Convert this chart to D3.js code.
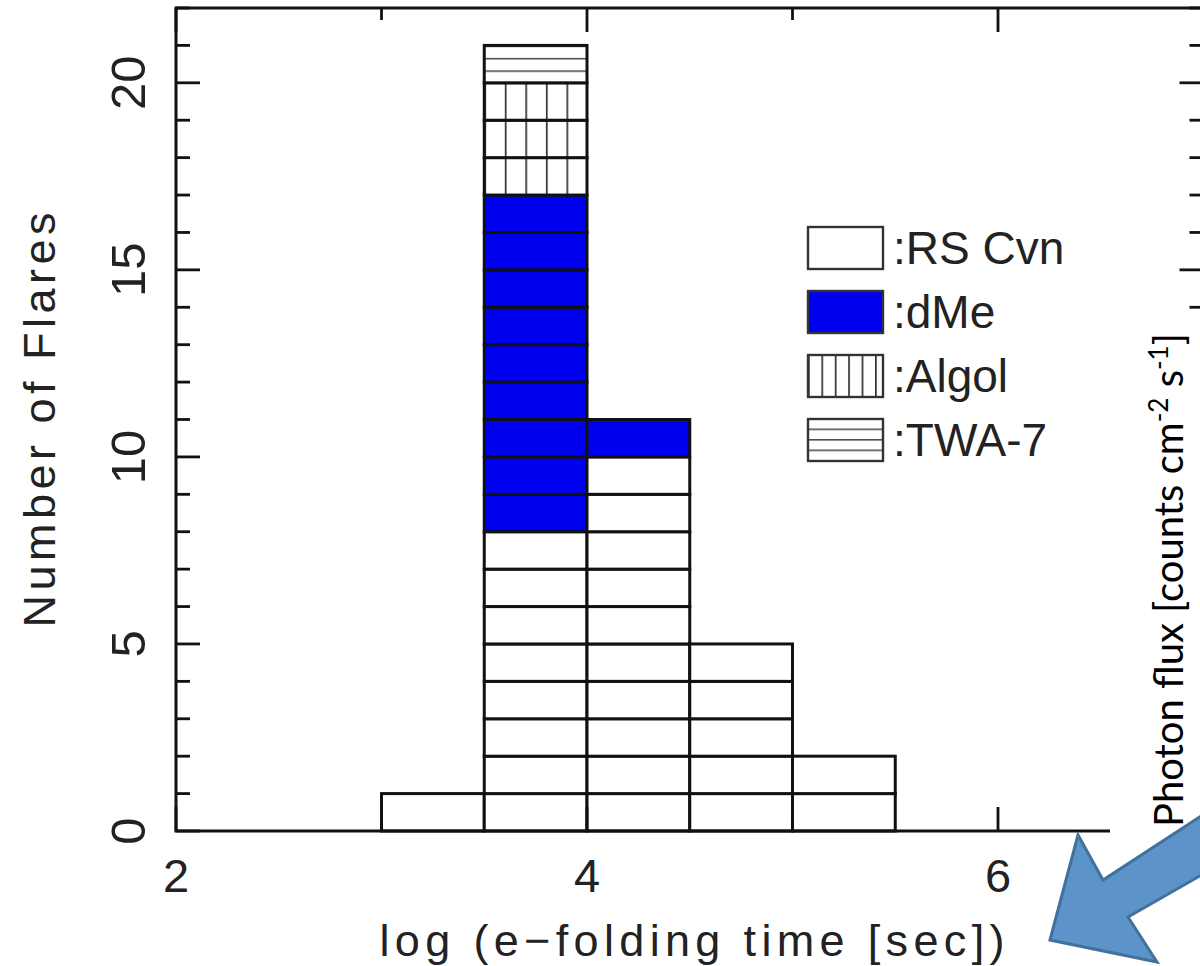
<!DOCTYPE html>
<html>
<head>
<meta charset="utf-8">
<script src="https://cdn.jsdelivr.net/npm/d3@7"></script>
<style>
html,body{margin:0;padding:0;background:#fff;}
svg{display:block;}
</style>
</head>
<body>
<svg id="chart" width="1200" height="966"></svg>
<script>
// ---- data ----
const binStarts = [3.0, 3.5, 4.0, 4.5, 5.0];
const binWidth = 0.5;
const rsCvn = [1, 8, 10, 5, 2];
const dMe   = [0, 9, 1, 0, 0];
const algol = [0, 3, 0, 0, 0];
const twa7  = [0, 1, 0, 0, 0];
const seriesNames = [":RS Cvn", ":dMe", ":Algol", ":TWA-7"];
const xTickLabels = [2, 4, 6];
const yTickLabels = [0, 5, 10, 15, 20];
const xLabel = "log (e\u2212folding time [sec])";
const yLabel = "Number of Flares";

// ---- layout ----
const svg = d3.select("#chart");
const x = d3.scaleLinear().domain([2, 7]).range([176, 1203.5]);
const y = d3.scaleLinear().domain([0, 22]).range([831, 8]);
const font = "'Liberation Sans', Arial, Helvetica, sans-serif";
const ink = "#111";

const defs = svg.append("defs");
function vPattern(id, step, x0) {
  const p = defs.append("pattern").attr("id", id).attr("patternUnits", "userSpaceOnUse")
    .attr("width", step).attr("height", 10).attr("x", x0).attr("y", 0);
  p.append("rect").attr("width", step).attr("height", 10).attr("fill", "#fff");
  p.append("line").attr("x1", 0.8).attr("x2", 0.8).attr("y1", 0).attr("y2", 10)
    .attr("stroke", "#333").attr("stroke-width", 1.8);
}
function hPattern(id, step, y0) {
  const p = defs.append("pattern").attr("id", id).attr("patternUnits", "userSpaceOnUse")
    .attr("width", 10).attr("height", step).attr("x", 0).attr("y", y0);
  p.append("rect").attr("width", 10).attr("height", step).attr("fill", "#fff");
  p.append("line").attr("y1", 0.8).attr("y2", 0.8).attr("x1", 0).attr("x2", 10)
    .attr("stroke", "#444").attr("stroke-width", 1.5);
}
vPattern("algolBar", (x(3.5 + binWidth) - x(3.5)) / 5, x(3.5));
hPattern("twaBar", (y(20) - y(21)) / 3, y(21));
vPattern("algolLeg", 13.4, 808);
hPattern("twaLeg", 10.5, 418);

const fills = ["#fff", "#0000f0", "url(#algolBar)", "url(#twaBar)"];
const legFills = ["#fff", "#0000f0", "url(#algolLeg)", "url(#twaLeg)"];
const seriesData = [rsCvn, dMe, algol, twa7];

// unit cells
const cells = [];
binStarts.forEach((b, i) => {
  let base = 0;
  seriesData.forEach((s, k) => {
    for (let j = 0; j < s[i]; j++) {
      cells.push({x0: b, x1: b + binWidth, y0: base + j, y1: base + j + 1, k});
    }
    base += s[i];
  });
});

const gBars = svg.append("g");
gBars.selectAll("rect").data(cells).enter().append("rect")
  .attr("x", d => x(d.x0)).attr("width", d => x(d.x1) - x(d.x0))
  .attr("y", d => y(d.y1)).attr("height", d => y(d.y0) - y(d.y1))
  .attr("fill", d => fills[d.k])
  .attr("stroke", ink).attr("stroke-width", 3);

// frame
svg.append("rect").attr("x", x(2)).attr("y", y(22))
  .attr("width", x(7) - x(2)).attr("height", y(0) - y(22))
  .attr("fill", "none").attr("stroke", ink).attr("stroke-width", 3);

// ticks y (left and right)
const yTicks = d3.range(0, 23);
const gT = svg.append("g").attr("stroke", ink).attr("stroke-width", 2.8);
yTicks.forEach(v => {
  const len = v % 5 === 0 ? 24 : 14;
  gT.append("line").attr("x1", x(2)).attr("x2", x(2) + len).attr("y1", y(v)).attr("y2", y(v));
  gT.append("line").attr("x1", x(7)).attr("x2", x(7) - len).attr("y1", y(v)).attr("y2", y(v));
});
// ticks x (top and bottom)
d3.range(2, 8).forEach(v => {
  const len = v % 2 === 0 ? 24 : 12;
  gT.append("line").attr("x1", x(v)).attr("x2", x(v)).attr("y1", y(22)).attr("y2", y(22) + len);
  gT.append("line").attr("x1", x(v)).attr("x2", x(v)).attr("y1", y(0)).attr("y2", y(0) - len);
});

// tick labels
svg.append("g").selectAll("text").data(xTickLabels).enter().append("text")
  .attr("x", d => x(d)).attr("y", 892).attr("text-anchor", "middle")
  .attr("font-family", font).attr("font-size", 47).attr("fill", "#222")
  .text(d => d);
svg.append("g").selectAll("text").data(yTickLabels).enter().append("text")
  .attr("transform", d => `translate(145,${y(d)}) rotate(-90)`)
  .attr("text-anchor", "middle")
  .attr("font-family", font).attr("font-size", 49).attr("fill", "#222")
  .text(d => d);

// axis titles
svg.append("text").attr("x", 692).attr("y", 956).attr("text-anchor", "middle")
  .attr("font-family", font).attr("font-size", 45).attr("fill", "#222")
  .attr("textLength", 625).attr("lengthAdjust", "spacing")
  .text(xLabel);
svg.append("text").attr("transform", "translate(55,420) rotate(-90)")
  .attr("text-anchor", "middle")
  .attr("font-family", font).attr("font-size", 45).attr("fill", "#222")
  .attr("textLength", 415).attr("lengthAdjust", "spacing")
  .text(yLabel);

// legend
const legY0 = 227, legStep = 64;
const gL = svg.append("g");
seriesNames.forEach((name, i) => {
  const yy = legY0 + i * legStep;
  gL.append("rect").attr("x", 808).attr("y", yy).attr("width", 75).attr("height", 42)
    .attr("fill", legFills[i]).attr("stroke", "#333").attr("stroke-width", 2.4);
  gL.append("text").attr("x", 893).attr("y", yy + 37)
    .attr("font-family", font).attr("font-size", 46).attr("fill", "#222")
    .text(name);
});

// overlay: white text box + rotated label + arrow
svg.append("rect").attr("x", 1110).attr("y", 318).attr("width", 90).attr("height", 648).attr("fill", "#fff");
const pf = svg.append("text").attr("transform", "translate(1183,580) rotate(-90)")
  .attr("text-anchor", "middle")
  .attr("font-family", "Lato, 'Open Sans', sans-serif").attr("font-size", 40).attr("fill", "#000");
pf.append("tspan").text("Photon flux [counts cm");
pf.append("tspan").attr("font-size", 26).attr("dy", -15).text("-2");
pf.append("tspan").attr("dy", 15).text(" s");
pf.append("tspan").attr("font-size", 26).attr("dy", -15).text("-1");
pf.append("tspan").attr("dy", 15).text("]");

const arrowPts = [[1050, 940], [1078, 835], [1103, 880], [1215, 807], [1240, 853], [1128, 917], [1157, 962]];
svg.append("polygon").attr("points", arrowPts.map(p => p.join(",")).join(" "))
  .attr("fill", "#5C93C9").attr("stroke", "#41719C").attr("stroke-width", 3)
  .attr("stroke-linejoin", "miter");
</script>
</body>
</html>
